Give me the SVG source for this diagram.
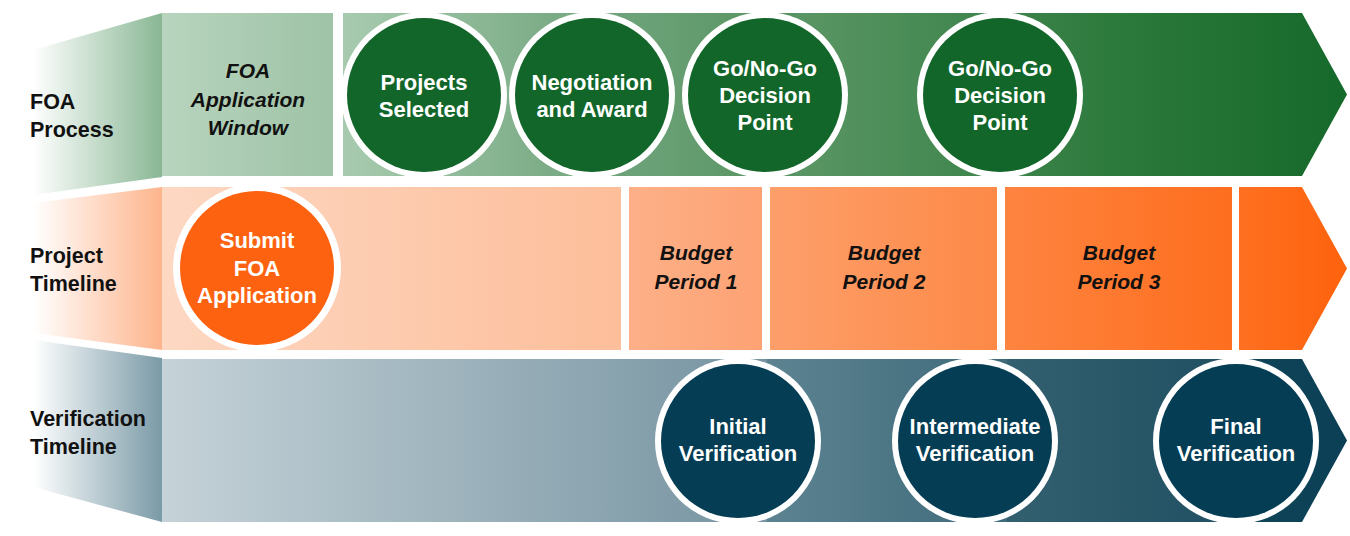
<svg xmlns="http://www.w3.org/2000/svg" width="1350" height="536" viewBox="0 0 1350 536">
<style>
.lbl{font-family:"Liberation Sans",Arial,sans-serif;font-weight:bold;font-size:21.5px;fill:#111111}
.ital{font-family:"Liberation Sans",Arial,sans-serif;font-weight:bold;font-style:italic;font-size:21px;fill:#111111;text-anchor:middle}
.ct{font-family:"Liberation Sans",Arial,sans-serif;font-weight:bold;font-size:22px;fill:#ffffff;text-anchor:middle}
.ring{fill:#ffffff}
.cg{fill:#12662a}
.co{fill:#fd6210}
.cb{fill:#053d55}
</style>
<defs>
<linearGradient id="lg" x1="0" x2="1" y1="0" y2="0"><stop offset="0" stop-color="#ffffff"/><stop offset="1" stop-color="#89b794"/></linearGradient>
<linearGradient id="lo" x1="0" x2="1" y1="0" y2="0"><stop offset="0" stop-color="#ffffff"/><stop offset="1" stop-color="#fdb48c"/></linearGradient>
<linearGradient id="lb" x1="0" x2="1" y1="0" y2="0"><stop offset="0" stop-color="#ffffff"/><stop offset="1" stop-color="#7a9aa7"/></linearGradient>
<linearGradient id="g0" x1="0" x2="1"><stop offset="0" stop-color="#b8d4be"/><stop offset="1" stop-color="#9ec3a6"/></linearGradient>
<linearGradient id="g1" x1="0" x2="1"><stop offset="0" stop-color="#a8cbaf"/><stop offset="1" stop-color="#8fb998"/></linearGradient>
<linearGradient id="g2" x1="0" x2="1"><stop offset="0" stop-color="#90ba99"/><stop offset="1" stop-color="#6ca178"/></linearGradient>
<linearGradient id="g3" x1="0" x2="1"><stop offset="0" stop-color="#6ea37a"/><stop offset="1" stop-color="#55925f"/></linearGradient>
<linearGradient id="g4" x1="0" x2="1"><stop offset="0" stop-color="#5a9665"/><stop offset="1" stop-color="#317c40"/></linearGradient>
<linearGradient id="g5" x1="0" x2="1"><stop offset="0" stop-color="#2f7c3e"/><stop offset="1" stop-color="#15692a"/></linearGradient>
<linearGradient id="o1" x1="0" x2="1"><stop offset="0" stop-color="#fdd8c3"/><stop offset="1" stop-color="#fdbe9a"/></linearGradient>
<linearGradient id="o2" x1="0" x2="1"><stop offset="0" stop-color="#fdb088"/><stop offset="1" stop-color="#fda273"/></linearGradient>
<linearGradient id="o3" x1="0" x2="1"><stop offset="0" stop-color="#fd9f6b"/><stop offset="1" stop-color="#fd8947"/></linearGradient>
<linearGradient id="o4" x1="0" x2="1"><stop offset="0" stop-color="#fe8440"/><stop offset="1" stop-color="#fe6e1e"/></linearGradient>
<linearGradient id="o5" x1="0" x2="1"><stop offset="0" stop-color="#fe7020"/><stop offset="1" stop-color="#fe620d"/></linearGradient>
<linearGradient id="b1" x1="0" x2="1"><stop offset="0" stop-color="#c5d2d8"/><stop offset="1" stop-color="#7593a0"/></linearGradient>
<linearGradient id="b2" x1="0" x2="1"><stop offset="0" stop-color="#5d8391"/><stop offset="1" stop-color="#3e6a7a"/></linearGradient>
<linearGradient id="b3" x1="0" x2="1"><stop offset="0" stop-color="#33606f"/><stop offset="1" stop-color="#1f4f62"/></linearGradient>
<linearGradient id="b4" x1="0" x2="1"><stop offset="0" stop-color="#114559"/><stop offset="1" stop-color="#0a3f55"/></linearGradient>
</defs>
<rect width="1350" height="536" fill="#ffffff"/>

<g id="row-labels">
<polygon points="33,50 162,13 162,177 33,195" fill="url(#lg)"/>
<polygon points="33,203 162,187 162,350 33,333" fill="url(#lo)"/>
<polygon points="33,340 162,358 162,522 33,487" fill="url(#lb)"/>
<text class="lbl" x="30" y="109">FOA</text>
<text class="lbl" x="30" y="137">Process</text>
<text class="lbl" x="30" y="263">Project</text>
<text class="lbl" x="30" y="291">Timeline</text>
<text class="lbl" x="30" y="426">Verification</text>
<text class="lbl" x="30" y="454">Timeline</text>
</g>

<g id="foa-band">
<rect x="162" y="13" width="171" height="163" fill="url(#g0)"/>
<rect x="343" y="13" width="112" height="163" fill="url(#g1)"/>
<rect x="455" y="13" width="170" height="163" fill="url(#g2)"/>
<rect x="625" y="13" width="170" height="163" fill="url(#g3)"/>
<rect x="795" y="13" width="293" height="163" fill="url(#g4)"/>
<polygon points="1088,13 1302,13 1347,94.5 1302,176 1088,176" fill="url(#g5)"/>
</g>
<g id="foa-window">
<text class="ital" x="248" y="78">FOA</text>
<text class="ital" x="248" y="107">Application</text>
<text class="ital" x="248" y="135">Window</text>
</g>

<g id="project-band">
<rect x="162" y="187" width="459" height="163" fill="url(#o1)"/>
<rect x="629" y="187" width="133" height="163" fill="url(#o2)"/>
<rect x="770" y="187" width="227" height="163" fill="url(#o3)"/>
<rect x="1005" y="187" width="227" height="163" fill="url(#o4)"/>
<polygon points="1239,187 1302,187 1347,268.5 1302,350 1239,350" fill="url(#o5)"/>
</g>
<g id="budget-period-1"><text class="ital" x="696" y="260">Budget</text><text class="ital" x="696" y="289">Period 1</text></g>
<g id="budget-period-2"><text class="ital" x="884" y="260">Budget</text><text class="ital" x="884" y="289">Period 2</text></g>
<g id="budget-period-3"><text class="ital" x="1119" y="260">Budget</text><text class="ital" x="1119" y="289">Period 3</text></g>

<g id="verification-band">
<rect x="162" y="359" width="605" height="163" fill="url(#b1)"/>
<rect x="767" y="359" width="240" height="163" fill="url(#b2)"/>
<rect x="1007" y="359" width="233" height="163" fill="url(#b3)"/>
<polygon points="1240,359 1302,359 1347,440.5 1302,522 1240,522" fill="url(#b4)"/>
</g>

<g id="projects-selected">
<circle class="ring" cx="424" cy="95" r="83"/><circle class="cg" cx="424" cy="95" r="77"/>
<text class="ct" x="424" y="90">Projects</text><text class="ct" x="424" y="117">Selected</text>
</g>
<g id="negotiation-award">
<circle class="ring" cx="592" cy="95" r="83"/><circle class="cg" cx="592" cy="95" r="77"/>
<text class="ct" x="592" y="90">Negotiation</text><text class="ct" x="592" y="117">and Award</text>
</g>
<g id="go-no-go-1">
<circle class="ring" cx="765" cy="95" r="83"/><circle class="cg" cx="765" cy="95" r="77"/>
<text class="ct" x="765" y="76">Go/No-Go</text><text class="ct" x="765" y="103">Decision</text><text class="ct" x="765" y="130">Point</text>
</g>
<g id="go-no-go-2">
<circle class="ring" cx="1000" cy="95" r="83"/><circle class="cg" cx="1000" cy="95" r="77"/>
<text class="ct" x="1000" y="76">Go/No-Go</text><text class="ct" x="1000" y="103">Decision</text><text class="ct" x="1000" y="130">Point</text>
</g>

<g id="submit-foa">
<circle class="ring" cx="257" cy="268" r="84"/><circle class="co" cx="257" cy="268" r="77"/>
<text class="ct" x="257" y="248">Submit</text><text class="ct" x="257" y="276">FOA</text><text class="ct" x="257" y="303">Application</text>
</g>

<g id="initial-verification">
<circle class="ring" cx="738" cy="441" r="83"/><circle class="cb" cx="738" cy="441" r="77"/>
<text class="ct" x="738" y="434">Initial</text><text class="ct" x="738" y="461">Verification</text>
</g>
<g id="intermediate-verification">
<circle class="ring" cx="975" cy="441" r="83"/><circle class="cb" cx="975" cy="441" r="77"/>
<text class="ct" x="975" y="434">Intermediate</text><text class="ct" x="975" y="461">Verification</text>
</g>
<g id="final-verification">
<circle class="ring" cx="1236" cy="441" r="83"/><circle class="cb" cx="1236" cy="441" r="77"/>
<text class="ct" x="1236" y="434">Final</text><text class="ct" x="1236" y="461">Verification</text>
</g>

<g id="connectors"/>
</svg>
